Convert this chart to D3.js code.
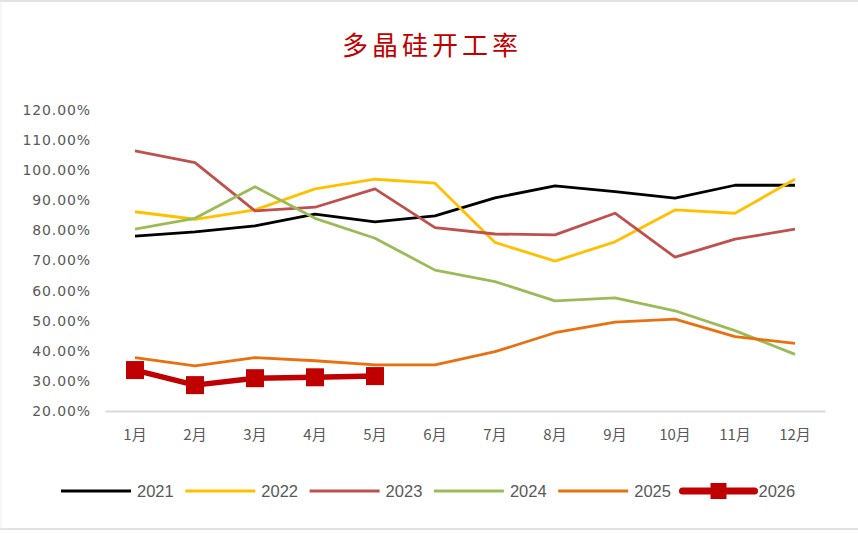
<!DOCTYPE html>
<html>
<head>
<meta charset="utf-8">
<script src="https://cdn.jsdelivr.net/npm/d3@7"></script>
<style>
  body { margin: 0; background: #fff; }
  svg { display: block; }
</style>
</head>
<body>
<div id="chart"></div>
<script>
// data (percent)
const months = ["1月", "2月", "3月", "4月", "5月", "6月", "7月", "8月", "9月", "10月", "11月", "12月"];
const yTicks = [20, 30, 40, 50, 60, 70, 80, 90, 100, 110, 120];

const y2021 = [78.1, 79.5, 81.5, 85.4, 82.8, 84.8, 90.8, 94.8, 92.9, 90.7, 95.0, 95.0];
const y2022 = [86.2, 83.7, 86.8, 93.8, 97.0, 95.7, 76.0, 69.8, 76.2, 86.8, 85.7, 97.0];
const y2023 = [106.4, 102.5, 86.5, 87.7, 93.8, 80.9, 78.8, 78.5, 85.7, 71.1, 77.1, 80.4];
const y2024 = [80.4, 84.0, 94.5, 84.0, 77.4, 66.8, 63.0, 56.6, 57.6, 53.3, 46.7, 38.8];
const y2025 = [37.7, 35.0, 37.7, 36.7, 35.3, 35.3, 39.7, 46.0, 49.5, 50.5, 44.7, 42.5];
const y2026 = [33.6, 28.6, 30.9, 31.2, 31.6];

const series = [
    { name: "2021", values: y2021, color: "#000000", width: 2.8 },
    { name: "2022", values: y2022, color: "#ffc000", width: 2.8 },
    { name: "2023", values: y2023, color: "#c0504d", width: 2.8 },
    { name: "2024", values: y2024, color: "#9bbb59", width: 2.8 },
    { name: "2025", values: y2025, color: "#e9700f", width: 2.8 },
    { name: "2026", values: y2026, color: "#c00000", width: 5.5, marker: true }
];

const W = 858, H = 534;
const margin = { top: 110, right: 33, bottom: 123, left: 105 };
const width = W - margin.left - margin.right;
const height = H - margin.top - margin.bottom;

const root = d3.select("#chart").append("svg")
    .attr("width", W)
    .attr("height", H);

// frame lines
root.append("line").attr("x1", 0).attr("x2", W).attr("y1", 1).attr("y2", 1)
    .attr("stroke", "#d9d9d9").attr("stroke-width", 1.5);
root.append("line").attr("x1", 0).attr("x2", W).attr("y1", 529).attr("y2", 529)
    .attr("stroke", "#d9d9d9").attr("stroke-width", 1.5);
root.append("line").attr("x1", 1).attr("x2", 1).attr("y1", 1).attr("y2", 529)
    .attr("stroke", "#eeeeee").attr("stroke-width", 1);

// title
root.append("text")
    .attr("x", 432)
    .attr("y", 55)
    .attr("text-anchor", "middle")
    .style("font-family", "'Noto Sans CJK SC', sans-serif")
    .style("font-size", "26px")
    .style("letter-spacing", "4px")
    .attr("fill", "#c00000")
    .text("多晶硅开工率");

const svg = root.append("g")
    .attr("transform", "translate(" + margin.left + "," + margin.top + ")");

const xScale = d3.scaleBand()
    .domain(months)
    .range([0, width]);

const yScale = d3.scaleLinear()
    .domain([20, 120])
    .range([height, 0]);

const xPos = (d, i) => xScale(months[i]) + xScale.bandwidth() / 2;

// y axis (labels only)
const yAxis = svg.append("g")
    .call(d3.axisLeft(yScale).tickValues(yTicks).tickSize(0).tickPadding(14)
        .tickFormat(d => d.toFixed(2) + "%"));
yAxis.select(".domain").remove();
yAxis.selectAll("text")
    .style("font-family", "'DejaVu Sans', sans-serif")
    .style("font-size", "14px")
    .style("letter-spacing", "0.9px")
    .attr("fill", "#595959");

// x axis
const xAxis = svg.append("g")
    .attr("transform", "translate(0," + height + ")")
    .call(d3.axisBottom(xScale).tickSize(0).tickPadding(18));
xAxis.select(".domain").attr("stroke", "#d9d9d9").attr("stroke-width", 2);
xAxis.selectAll("text")
    .style("font-family", "'Noto Sans CJK SC', sans-serif")
    .style("font-size", "15px")
    .attr("fill", "#595959");

// lines
const line = d3.line()
    .x(xPos)
    .y(d => yScale(d));

series.forEach(s => {
    svg.append("path")
        .datum(s.values)
        .attr("fill", "none")
        .attr("stroke", s.color)
        .attr("stroke-width", s.width)
        .attr("stroke-linejoin", "round")
        .attr("d", line);
    if (s.marker) {
        svg.selectAll(".marker")
            .data(s.values)
            .enter().append("rect")
            .attr("class", "marker")
            .attr("x", (d, i) => xPos(d, i) - 9)
            .attr("y", d => yScale(d) - 9)
            .attr("width", 18)
            .attr("height", 18)
            .attr("fill", s.color);
    }
});

// legend
const legend = root.append("g")
    .attr("transform", "translate(61,491)");
const itemW = 124.3;
series.forEach((s, i) => {
    const g = legend.append("g").attr("transform", "translate(" + (i * itemW) + ",0)");
    g.append("line")
        .attr("x1", 0).attr("x2", s.marker ? 72 : 70)
        .attr("y1", 0).attr("y2", 0)
        .attr("stroke", s.color)
        .attr("stroke-width", s.marker ? 7 : 3)
        .attr("stroke-linecap", s.marker ? "round" : "butt");
    if (s.marker) {
        g.append("rect")
            .attr("x", 28).attr("y", -8)
            .attr("width", 16).attr("height", 16)
            .attr("fill", s.color);
    }
    g.append("text")
        .attr("x", 76)
        .attr("y", 6)
        .style("font-family", "'Liberation Sans', Arial, sans-serif")
        .style("font-size", "16.5px")
        .attr("fill", "#595959")
        .text(s.name);
});
</script>
</body>
</html>
